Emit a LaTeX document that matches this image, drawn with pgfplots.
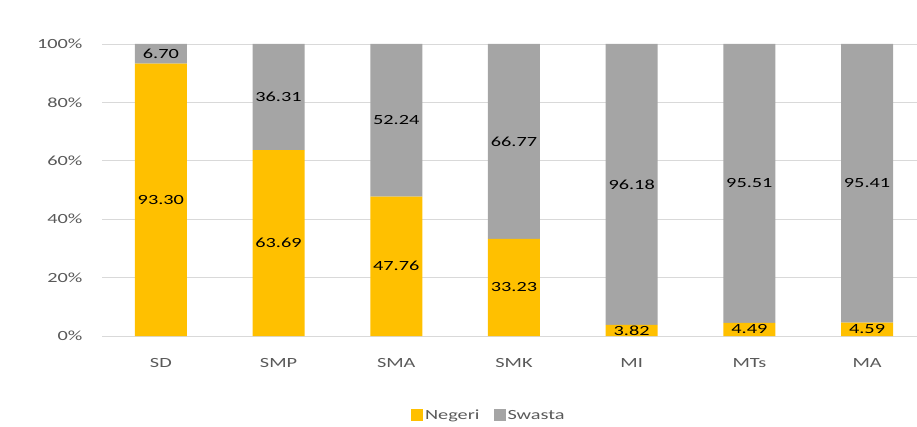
\documentclass[border=0pt]{standalone}
\usepackage{pgfplots}
\pgfplotsset{compat=1.18}
\usepackage{fontspec}
\setmainfont{Carlito}[FakeStretch=1.45]
\definecolor{negeri}{HTML}{FFC000}
\definecolor{swasta}{HTML}{A5A5A5}
\definecolor{gridc}{HTML}{D9D9D9}
\definecolor{txt}{HTML}{595959}
\begin{document}
\begin{tikzpicture}
\path[use as bounding box] (-102pt,-90pt) rectangle (815pt,336pt);
\begin{axis}[
  at={(0pt,0pt)}, anchor=south west,
  x=117.7pt, y=2.92pt,
  xmin=-0.5, xmax=6.42, ymin=0, ymax=100,
  ybar stacked, bar width=52pt,
  axis line style={draw=none}, tick style={draw=none},
  ymajorgrids, grid style={gridc, line width=0.8pt},
  ytick={0,20,40,60,80,100},
  yticklabels={0\%,20\%,40\%,60\%,80\%,100\%},
  xtick={0,1,2,3,4,5,6},
  xticklabels={SD,SMP,SMA,SMK,MI,MTs,MA},
  tick label style={font=\fontsize{14}{16}\selectfont, text=txt},
  xticklabel style={yshift=-19pt},
  yticklabel style={xshift=-16pt},
  /pgf/number format/assume math mode=true,
  visualization depends on={rawy \as \rawy},
  nodes near coords={\pgfmathprintnumber[fixed,fixed zerofill,precision=2]{\rawy}},
  every node near coord/.append style={anchor=center, font=\fontsize{14}{16}\selectfont, text=black},
  legend style={at={(0.475,-0.272)}, anchor=center, legend columns=2, draw=none, fill=none,
    font=\fontsize{14}{16}\selectfont, text=txt, /tikz/every even column/.append style={column sep=12pt}},
  legend image code/.code={\fill[#1] (0pt,-6pt) rectangle (12pt,6pt);},
]
\addplot[fill=negeri, draw=none] coordinates {(0,93.30) (1,63.69) (2,47.76) (3,33.23) (4,3.82) (5,4.49) (6,4.59)};
\addplot[fill=swasta, draw=none] coordinates {(0,6.70) (1,36.31) (2,52.24) (3,66.77) (4,96.18) (5,95.51) (6,95.41)};
\legend{Negeri, Swasta}
\end{axis}
\end{tikzpicture}
\end{document}
